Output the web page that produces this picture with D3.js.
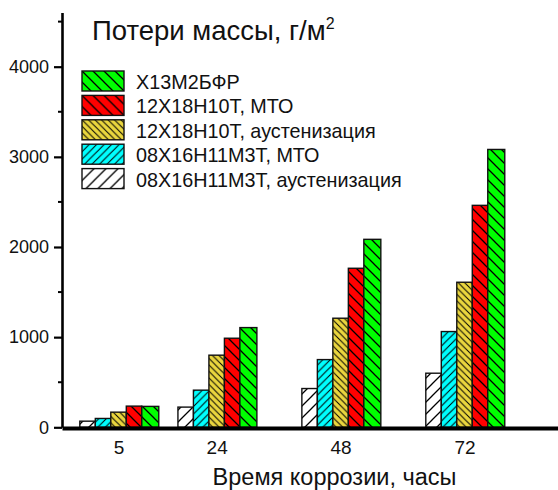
<!DOCTYPE html>
<html>
<head>
<meta charset="utf-8">
<script src="https://cdn.jsdelivr.net/npm/d3@7"></script>
<style>
  body { margin: 0; background: #fff; }
  svg { display: block; font-family: "Liberation Sans", Arial, sans-serif; }
</style>
</head>
<body>
<svg id="chart" width="558" height="490"></svg>
<script>
// hours of corrosion (x positions are linear in time)
const hours = [5, 24, 48, 72];
const yTicks = [0, 1000, 2000, 3000, 4000];
const yMinorTicks = [500, 1500, 2500, 3500, 4500];

// series, in bar order (left to right)
const seriesNames = [
  '08Х16Н11М3Т, аустенизация',
  '08Х16Н11М3Т, МТО',
  '12Х18Н10Т, аустенизация',
  '12Х18Н10Т, МТО',
  'Х13М2БФР'
];
const seriesColors = ['#ffffff', '#00ffff', '#ead63e', '#ff0000', '#00ff00'];
const seriesHatch = ['/', '/', '\\', '\\', '\\'];
const hatchStep = [12, 7.5, 6.5, 11, 11];

const s08aus = [68, 224, 430, 600];
const s08mto = [98, 412, 751, 1062];
const s12aus = [168, 800, 1210, 1609];
const s12mto = [235, 988, 1764, 2462];
const sX13 = [232, 1106, 2085, 3082];
const seriesValues = [s08aus, s08mto, s12aus, s12mto, sX13];

const svg = d3.select('#chart');

const x = d3.scaleLinear().domain([-5.95, 90.1]).range([62, 558]);
const y = d3.scaleLinear().domain([0, 4600]).range([427.3, 12.6]);
const barW = 3; // hours per bar

// hatch patterns
const defs = svg.append('defs');
seriesColors.forEach((c, i) => {
  const s = hatchStep[i];
  const p = defs.append('pattern')
    .attr('id', `hatch${i}`)
    .attr('patternUnits', 'userSpaceOnUse')
    .attr('width', s)
    .attr('height', s);
  p.append('rect').attr('width', s).attr('height', s).attr('fill', c);
  const d = seriesHatch[i] === '/'
    ? `M-1,1 l2,-2 M0,${s} l${s},${-s} M${s - 1},${s + 1} l2,-2`
    : `M-1,${s - 1} l2,2 M0,0 l${s},${s} M${s - 1},-1 l2,2`;
  p.append('path').attr('d', d).attr('stroke', '#000')
    .attr('stroke-width', i === 2 || i === 1 ? 1 : 1.3);
});

// bars
seriesValues.forEach((vals, si) => {
  svg.append('g')
    .selectAll('rect')
    .data(vals)
    .join('rect')
    .attr('x', (d, gi) => x(hours[gi] - 2.5 * barW + si * barW))
    .attr('y', (d) => y(d))
    .attr('width', x(barW) - x(0) + (si === 4 ? 1.5 : 0))
    .attr('height', (d) => y(0) - y(d))
    .attr('fill', `url(#hatch${si})`)
    .attr('stroke', '#111')
    .attr('stroke-width', 1.4);
});

// y axis
const yAxis = svg.append('g')
  .attr('transform', `translate(${x.range()[0]},0)`)
  .call(d3.axisLeft(y).tickValues(yTicks).tickFormat(d3.format('d'))
    .tickSize(8).tickSizeOuter(0).tickPadding(5));
yAxis.select('.domain').attr('stroke-width', 2.6);
yAxis.selectAll('.tick line').attr('stroke-width', 2.2);
yAxis.selectAll('.tick text').attr('font-size', 18).attr('fill', '#111');
yAxis.append('g')
  .selectAll('line')
  .data(yMinorTicks)
  .join('line')
  .attr('x1', -4).attr('x2', 0)
  .attr('y1', (d) => y(d)).attr('y2', (d) => y(d))
  .attr('stroke', '#000').attr('stroke-width', 2);

// x axis
const xAxis = svg.append('g')
  .attr('transform', `translate(0,${y(0) + 0.6})`)
  .call(d3.axisBottom(x).tickValues(hours).tickSize(0).tickSizeOuter(0).tickPadding(13));
xAxis.select('.domain').attr('stroke-width', 4);
xAxis.selectAll('.tick text').attr('font-size', 19).attr('fill', '#111');

svg.append('text')
  .attr('x', 334.5).attr('y', 485)
  .attr('text-anchor', 'middle')
  .attr('font-size', 23.5)
  .attr('fill', '#111')
  .text('Время коррозии, часы');

// title
const title = svg.append('text')
  .attr('x', 92).attr('y', 39.5)
  .attr('font-size', 27.5)
  .attr('fill', '#111');
title.append('tspan').text('Потери массы, г/м');
title.append('tspan').attr('dy', -11).attr('font-size', 16).text('2');

// legend (reverse order)
const legendRows = d3.range(seriesNames.length).reverse();
const legend = svg.append('g').attr('transform', 'translate(82,71)');
legendRows.forEach((si, r) => {
  const g = legend.append('g').attr('transform', `translate(0,${r * 24.4})`);
  g.append('rect')
    .attr('width', 42).attr('height', 20)
    .attr('fill', `url(#hatch${si})`)
    .attr('stroke', '#111').attr('stroke-width', 1.4);
  g.append('text')
    .attr('x', 54).attr('y', 18)
    .attr('font-size', 19.8)
    .attr('fill', '#111')
    .text(seriesNames[si]);
});
</script>
</body>
</html>
